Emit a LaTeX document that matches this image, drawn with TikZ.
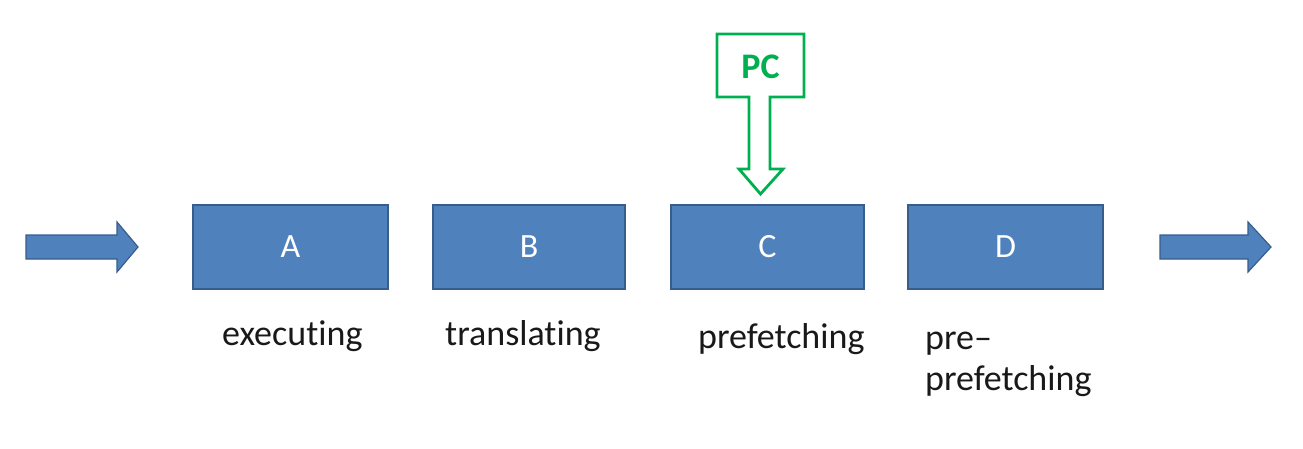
\documentclass[tikz,border=0pt]{standalone}
\usepackage{fontspec}
\setmainfont[Ligatures=NoCommon]{Carlito}
\definecolor{boxfill}{RGB}{79,129,189}
\definecolor{boxline}{RGB}{56,93,138}
\definecolor{pcgreen}{RGB}{0,176,80}
\begin{document}
\begin{tikzpicture}[x=1pt,y=-1pt,
  stagebox/.style={draw=boxline,line width=1.5pt,fill=boxfill},
  stageletter/.style={text=white,font=\fontsize{34}{40}\selectfont},
  stagelabel/.style={anchor=base west,inner sep=0pt,font=\fontsize{36}{43}\selectfont,text=black!90},
  flowarrow/.style={draw=boxline,line width=1.2pt,fill=boxfill,line join=miter},
  pcarrow/.style={draw=pcgreen,line width=2.8pt,fill=white,line join=miter}]
\useasboundingbox (0,0) rectangle (1303,449);
% stage boxes
\path[stagebox] (193,205) rectangle (388,289);
\path[stagebox] (433,205) rectangle (625,289);
\path[stagebox] (671,205) rectangle (864,289);
\path[stagebox] (908,205) rectangle (1103,289);
\node[stageletter] (A) at (290.5,247) {A};
\node[stageletter] (B) at (529,247) {B};
\node[stageletter] (C) at (767.5,247) {C};
\node[stageletter] (D) at (1005.5,247) {D};
% labels
\node[stagelabel] (la) at (222,345) {executing};
\node[stagelabel] (lb) at (445,345) {translating};
\node[stagelabel] (lc) at (698,348) {prefetching};
\node[stagelabel] (ld1) at (925,349) {pre–};
\node[stagelabel] (ld2) at (925,390) {prefetching};
% flow arrows
\path[flowarrow] (26,235) -- (117,235) -- (117,222) -- (138,247) -- (117,272) -- (117,259) -- (26,259) -- cycle;
\path[flowarrow] (1160,235) -- (1248,235) -- (1248,222) -- (1271,247) -- (1248,272) -- (1248,259) -- (1160,259) -- cycle;
% PC callout arrow
\path[pcarrow] (717,34) -- (804,34) -- (804,97) -- (770,97) -- (770,169) -- (783,169) -- (760.5,194) -- (739,169) -- (749,169) -- (749,97) -- (717,97) -- cycle;
\node[text=pcgreen,font=\bfseries\fontsize{36}{42}\selectfont] (PC) at (760.5,67) {PC};
\end{tikzpicture}
\end{document}
